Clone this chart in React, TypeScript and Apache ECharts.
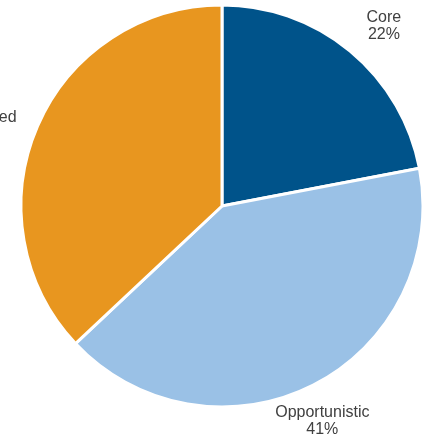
import React, { useEffect, useRef } from "react";
import * as echarts from "echarts";

const categories = ["Core", "Opportunistic", "Value-Added"];
const values = [22, 41, 37];
const colors = ["#00538a", "#9ac1e6", "#e8961f"];
const labelShift = [
  [7, 6],
  [-10, -3],
  [-28, 16],
];

export default function App() {
  const ref = useRef<HTMLDivElement>(null);
  useEffect(() => {
    if (!ref.current) return;
    const chart = echarts.init(ref.current, null, { renderer: "svg" });
    const data = categories.map((name, i) => ({
      name,
      value: values[i],
      itemStyle: { color: colors[i] },
    }));
    chart.setOption({
      animation: false,
      series: [
        {
          type: "pie",
          center: [222, 206],
          radius: [0, 201],
          startAngle: 90,
          clockwise: true,
          silent: true,
          label: { show: false },
          labelLine: { show: false },
          itemStyle: { borderColor: "#ffffff", borderWidth: 3 },
          data,
        },
        {
          type: "pie",
          center: [222, 206],
          radius: [0, 480],
          startAngle: 90,
          clockwise: true,
          silent: true,
          itemStyle: { color: "transparent", borderWidth: 0 },
          label: {
            show: true,
            position: "inside",
            formatter: (p: any) => `${p.name}\n${Math.round(p.percent)}%`,
            color: "#404040",
            fontFamily: "'Liberation Sans', Arial, sans-serif",
            fontSize: 16,
            lineHeight: 17,
            align: "center",
          },
          labelLayout: (p: any) => ({
            dx: labelShift[p.dataIndex][0],
            dy: labelShift[p.dataIndex][1],
          }),
          labelLine: { show: false },
          data: categories.map((name, i) => ({ name, value: values[i] })),
        },
      ],
    });
    return () => chart.dispose();
  }, []);
  return (
    <div
      ref={ref}
      style={{ position: "fixed", left: 0, top: 0, width: 426, height: 438 }}
    />
  );
}
